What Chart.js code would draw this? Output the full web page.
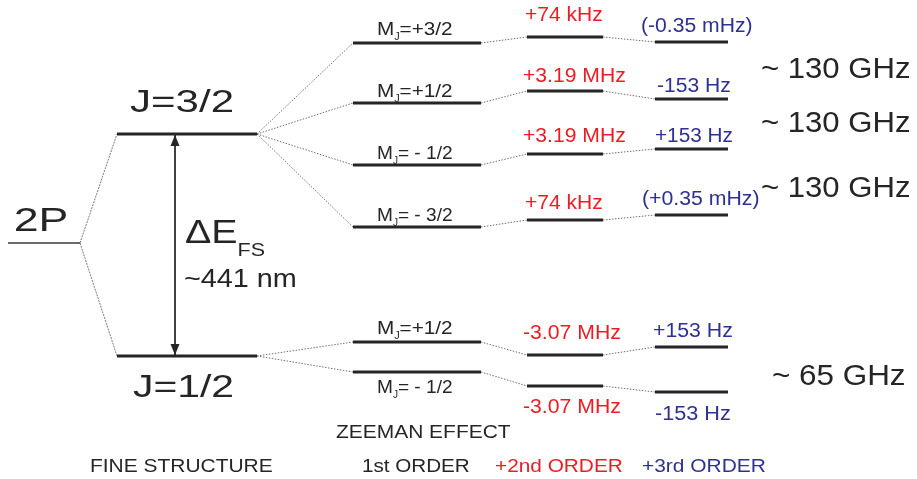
<!DOCTYPE html>
<html>
<head>
<meta charset="utf-8">
<script src="https://cdn.jsdelivr.net/npm/chart.js@4/dist/chart.umd.min.js"></script>
<style>
  html, body { margin: 0; padding: 0; background: #ffffff; }
  #wrap { width: 917px; height: 479px; }
</style>
</head>
<body>
<div id="wrap"><canvas id="c" width="917" height="479"></canvas></div>
<script>
// ---------------- DATA (diagram energy units, higher = up) ----------------
const term2P        = [236];                 // 2P
const fineLevels    = [345, 123];            // J=3/2, J=1/2
const fineNames     = ['J=3/2', 'J=1/2'];
const zeeman1Upper  = [436, 376, 314, 252];  // MJ = +3/2, +1/2, -1/2, -3/2
const zeeman1Lower  = [137, 107];            // MJ = +1/2, -1/2
const mjUpper       = ['=+3/2', '=+1/2', '= - 1/2', '= - 3/2'];
const mjLower       = ['=+1/2', '= - 1/2'];
const zeeman2Upper  = [442, 388, 325, 259];
const zeeman2Lower  = [124, 93];
const shift2Upper   = ['+74 kHz', '+3.19 MHz', '+3.19 MHz', '+74 kHz'];
const shift2Lower   = ['-3.07 MHz', '-3.07 MHz'];
const zeeman3Upper  = [437, 380, 330, 264];
const zeeman3Lower  = [132, 87];
const shift3Upper   = ['(-0.35 mHz)', '-153 Hz', '+153 Hz', '(+0.35 mHz)'];
const shift3Lower   = ['+153 Hz', '-153 Hz'];
const splitLabels   = ['~ 130 GHz', '~ 130 GHz', '~ 130 GHz', '~ 65 GHz'];
const columnTitles  = ['FINE STRUCTURE', '1st ORDER', '+2nd ORDER', '+3rd ORDER'];

// ---------------- LAYOUT / STYLE ----------------
const col = {
  term:   [8, 80],
  fine:   [117, 257],
  z1:     [353, 481],
  z2:     [527, 603],
  z3:     [655, 728]
};
const DARK = '#272425', RED = '#ed1c24', BLUE = '#2e3192', GREY = '#6f6f6f';
const FONT = '"Liberation Sans", Arial, Helvetica, sans-serif';

const datasets = [];
function level(c, e, w, color) {
  datasets.push({ data: [{x: c[0], y: e}, {x: c[1], y: e}], showLine: true,
    borderColor: color || DARK, borderWidth: w || 3, pointRadius: 0, borderCapStyle: 'butt' });
}
function link(x0, e0, x1, e1, dash, color) {
  datasets.push({ data: [{x: x0, y: e0}, {x: x1, y: e1}], showLine: true,
    borderColor: color || GREY, borderWidth: 1, borderDash: dash || [1.5, 1.5], pointRadius: 0 });
}

// levels
level(col.term, term2P[0], 1.5, '#3a3a3a');
fineLevels.forEach(e => level(col.fine, e));
zeeman1Upper.concat(zeeman1Lower).forEach(e => level(col.z1, e));
zeeman2Upper.concat(zeeman2Lower).forEach(e => level(col.z2, e));
zeeman3Upper.concat(zeeman3Lower).forEach(e => level(col.z3, e));

// connectors
fineLevels.forEach(e => link(col.term[1], term2P[0], col.fine[0], e, [2, 1], '#7a7a7a'));
zeeman1Upper.forEach(e => link(col.fine[1], fineLevels[0], col.z1[0], e));
zeeman1Lower.forEach(e => link(col.fine[1], fineLevels[1], col.z1[0], e));
const z1 = zeeman1Upper.concat(zeeman1Lower);
const z2 = zeeman2Upper.concat(zeeman2Lower);
const z3 = zeeman3Upper.concat(zeeman3Lower);
z1.forEach((e, i) => link(col.z1[1], e, col.z2[0], z2[i]));
z2.forEach((e, i) => link(col.z2[1], e, col.z3[0], z3[i]));

// fine-structure arrow (shaft as a dataset)
const arrowX = 175;
datasets.push({ data: [{x: arrowX, y: fineLevels[0]}, {x: arrowX, y: fineLevels[1]}], showLine: true,
  borderColor: DARK, borderWidth: 1, pointRadius: 0, arrow: true });

// ---------------- TEXT LABELS ----------------
// each: runs [text, size, dy], x (left ink), y (baseline, energy units), w (target ink width), color
const labels = [];
function L(runs, x, y, w, color) { labels.push({ runs, x, y, w, color: color || DARK }); }
const r = (t, s, dy) => ({ t, s, dy: dy || 0 });

L([r('2P', 33)], 15, 248, 52);
L([r(fineNames[0], 32)], 130, 367, 103);
L([r(fineNames[1], 32)], 133, 82, 100);
L([r('\u0394E', 33), r('FS', 18, 13)], 185, 236, 80);
L([r('~441 nm', 26)], 185, 192, 110);

const mjBaseUp = [444, 382, 320, 258], mjBaseLo = [145, 86];
mjUpper.forEach((t, i) => L([r('M', 19), r('J', 10, 5), r(t, 19)], 378, mjBaseUp[i], 74));
mjLower.forEach((t, i) => L([r('M', 19), r('J', 10, 5), r(t, 19)], 378, mjBaseLo[i], 74));

const s2BaseUp = [458, 397, 337, 270], s2X = [525, 523, 523, 525], s2W = [77, 102, 102, 77];
shift2Upper.forEach((t, i) => L([r(t, 19.5)], s2X[i], s2BaseUp[i], s2W[i], RED));
const s2BaseLo = [140, 66];
shift2Lower.forEach((t, i) => L([r(t, 19.5)], 523, s2BaseLo[i], 97, RED));

const s3BaseUp = [447, 387, 337, 274], s3X = [642, 657, 655, 643], s3W = [110, 73, 77, 116];
shift3Upper.forEach((t, i) => L([r(t, 19.5)], s3X[i], s3BaseUp[i], s3W[i], BLUE));
const s3BaseLo = [142, 59], s3XLo = [653, 655], s3WLo = [79, 75];
shift3Lower.forEach((t, i) => L([r(t, 19.5)], s3XLo[i], s3BaseLo[i], s3WLo[i], BLUE));

const ghzBase = [401, 347, 282, 94], ghzX = [762, 762, 762, 773], ghzW = [148, 148, 148, 132];
splitLabels.forEach((t, i) => L([r(t, 29)], ghzX[i], ghzBase[i], ghzW[i]));

L([r('ZEEMAN EFFECT', 19)], 336, 41, 175);
const titleX = [91, 363, 495, 642], titleW = [181, 106, 127, 123], titleC = [DARK, DARK, RED, BLUE];
columnTitles.forEach((t, i) => L([r(t, 19)], titleX[i], 7, titleW[i], titleC[i]));

// ---------------- PLUGIN: arrow heads + text ----------------
const diagramPlugin = {
  id: 'diagram',
  afterDatasetsDraw(chart) {
    const ctx = chart.ctx, xs = chart.scales.x, ys = chart.scales.y;
    // arrow heads
    chart.data.datasets.forEach(ds => {
      if (!ds.arrow) return;
      const px = xs.getPixelForValue(ds.data[0].x);
      const yTop = ys.getPixelForValue(ds.data[0].y);
      const yBot = ys.getPixelForValue(ds.data[1].y);
      ctx.save();
      ctx.fillStyle = DARK;
      const hw = 4.5, hl = 11;
      ctx.beginPath();
      ctx.moveTo(px, yTop + 1); ctx.lineTo(px - hw, yTop + 1 + hl); ctx.lineTo(px + hw, yTop + 1 + hl); ctx.closePath(); ctx.fill();
      ctx.beginPath();
      ctx.moveTo(px, yBot - 1); ctx.lineTo(px - hw, yBot - 1 - hl); ctx.lineTo(px + hw, yBot - 1 - hl); ctx.closePath(); ctx.fill();
      ctx.restore();
    });
    // text
    labels.forEach(lb => {
      ctx.save();
      ctx.fillStyle = lb.color;
      ctx.textBaseline = 'alphabetic';
      ctx.textAlign = 'left';
      const ms = lb.runs.map(run => { ctx.font = run.s + 'px ' + FONT; return ctx.measureText(run.t); });
      let adv = 0;
      ms.forEach((m, i) => { if (i < ms.length - 1) adv += m.width; });
      const last = ms[ms.length - 1];
      const inkW = adv + last.actualBoundingBoxRight + ms[0].actualBoundingBoxLeft;
      const sx = lb.w ? lb.w / inkW : 1;
      const px = xs.getPixelForValue(lb.x), py = ys.getPixelForValue(lb.y);
      ctx.translate(px, py);
      ctx.scale(sx, 1);
      let cx = ms[0].actualBoundingBoxLeft;
      lb.runs.forEach((run, i) => {
        ctx.font = run.s + 'px ' + FONT;
        ctx.fillText(run.t, cx, run.dy);
        cx += ms[i].width;
      });
      ctx.restore();
    });
  }
};

new Chart(document.getElementById('c'), {
  type: 'scatter',
  data: { datasets },
  options: {
    responsive: false,
    animation: false,
    devicePixelRatio: 1,
    layout: { padding: 0 },
    plugins: { legend: { display: false }, tooltip: { enabled: false } },
    elements: { point: { radius: 0, hoverRadius: 0 } },
    events: [],
    scales: {
      x: { type: 'linear', min: 0, max: 917, display: false },
      y: { type: 'linear', min: 0, max: 479, display: false }
    }
  },
  plugins: [diagramPlugin]
});
</script>
</body>
</html>
